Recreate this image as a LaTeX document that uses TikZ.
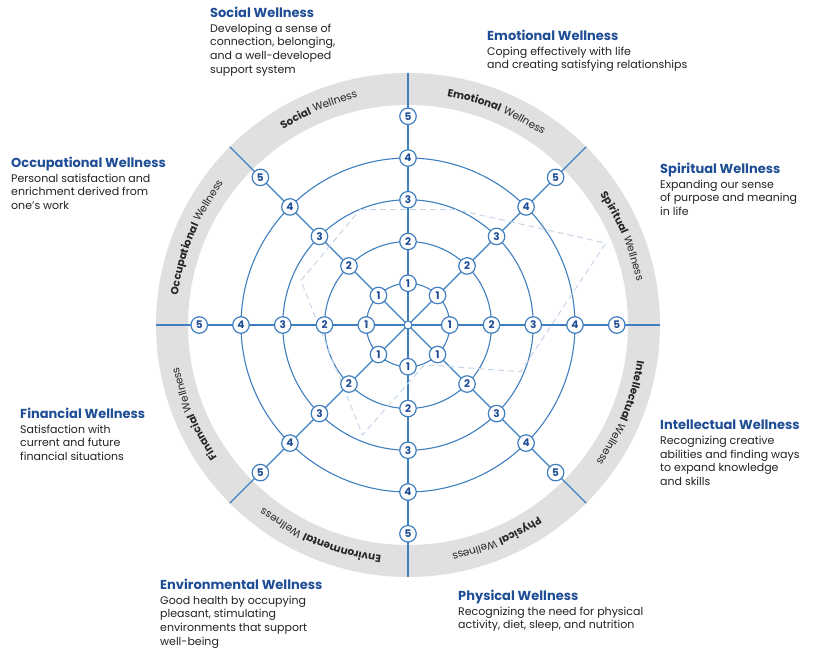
\documentclass[tikz,border=0pt]{standalone}
\usepackage{fontspec}
\setmainfont{Poppins}
\usetikzlibrary{decorations.text}
\definecolor{lineblue}{HTML}{3F7FC0}
\definecolor{numblue}{HTML}{1F4E96}
\definecolor{ringgray}{HTML}{E0E0E0}
\definecolor{dashgray}{HTML}{C5D5E8}
\definecolor{bodytext}{HTML}{222222}
\tikzset{
  x=1pt,y=1pt,
  numdot/.style={circle,draw=lineblue,line width=1.2pt,fill=white,inner sep=0pt,minimum size=16.5pt,font=\fontsize{10.5}{10.5}\selectfont\bfseries,text=numblue},
  infobox/.style={anchor=north west,align=left,inner sep=0pt,font=\fontsize{11}{13.6}\selectfont,text=bodytext},
  ringlab/.style={decorate,decoration={text along path,text align=center,text color=black!85,text={#1}}},
}
\newcommand{\ttl}[1]{{\fontsize{13}{15}\selectfont\bfseries\color{numblue}#1}\\[1pt]}
\begin{document}
\begin{tikzpicture}
\useasboundingbox (0,0) rectangle (823,-655);
\begin{scope}[shift={(408,-325)}]
  \fill[ringgray,even odd rule] (0,0) circle[radius=252] (0,0) circle[radius=220];
  \foreach \r in {41.75,83.5,125.25,167} \draw[lineblue,line width=1.1pt] (0,0) circle[radius=\r];
  \foreach \a in {0,45,...,315} \draw[lineblue,line width=1.1pt] (0,0) -- (\a:252);
  % dashed profile
  \draw[dashgray,dashed,line width=1pt,dash pattern=on 6pt off 4pt]
    (112.5:125) -- (67.5:125) -- (22.5:214) -- (-22.5:122) -- (-67.5:43) -- (-112.5:119) -- (-157.5:83) -- (157.5:116) -- cycle;
  \node[circle,draw=lineblue,fill=white,line width=1.1pt,inner sep=0pt,minimum size=8pt] (c) at (0,0) {};
  \foreach \a in {0,45,...,315}
    \foreach \k in {1,...,5}
      \node[numdot] (n\a-\k) at (\a:{41.75*\k}) {\k};
  \foreach \c/\lab in {112.5/Social,67.5/Emotional,22.5/Spiritual,-22.5/Intellectual,-67.5/Physical,-112.5/Environmental,-157.5/Financial,157.5/Occupational}
    \path[ringlab={|\fontsize{10.5}{11}\selectfont\bfseries|\lab||{\fontsize{10.5}{11}\selectfont{ }Wellness}}]
      ({\c+40}:232) arc[start angle={\c+40},end angle={\c-40},radius=232];
\end{scope}
\node[infobox] (tsoc) at (210,-7) {\ttl{Social Wellness}Developing a sense of\\connection, belonging,\\and a well-developed\\support system};
\node[infobox] (temo) at (487,-30) {\ttl{Emotional Wellness}Coping effectively with life\\and creating satisfying relationships};
\node[infobox] (tspi) at (660,-163) {\ttl{Spiritual Wellness}Expanding our sense\\of purpose and meaning\\in life};
\node[infobox] (tocc) at (11,-157) {\ttl{Occupational Wellness}Personal satisfaction and\\enrichment derived from\\one’s work};
\node[infobox] (tfin) at (20,-408) {\ttl{Financial Wellness}Satisfaction with\\current and future\\financial situations};
\node[infobox] (tint) at (660,-420) {\ttl{Intellectual Wellness}Recognizing creative\\abilities and finding ways\\to expand knowledge\\and skills};
\node[infobox] (tenv) at (160,-579) {\ttl{Environmental Wellness}Good health by occupying\\pleasant, stimulating\\environments that support\\well-being};
\node[infobox] (tphy) at (458,-590) {\ttl{Physical Wellness}Recognizing the need for physical\\activity, diet, sleep, and nutrition};
\end{tikzpicture}
\end{document}
